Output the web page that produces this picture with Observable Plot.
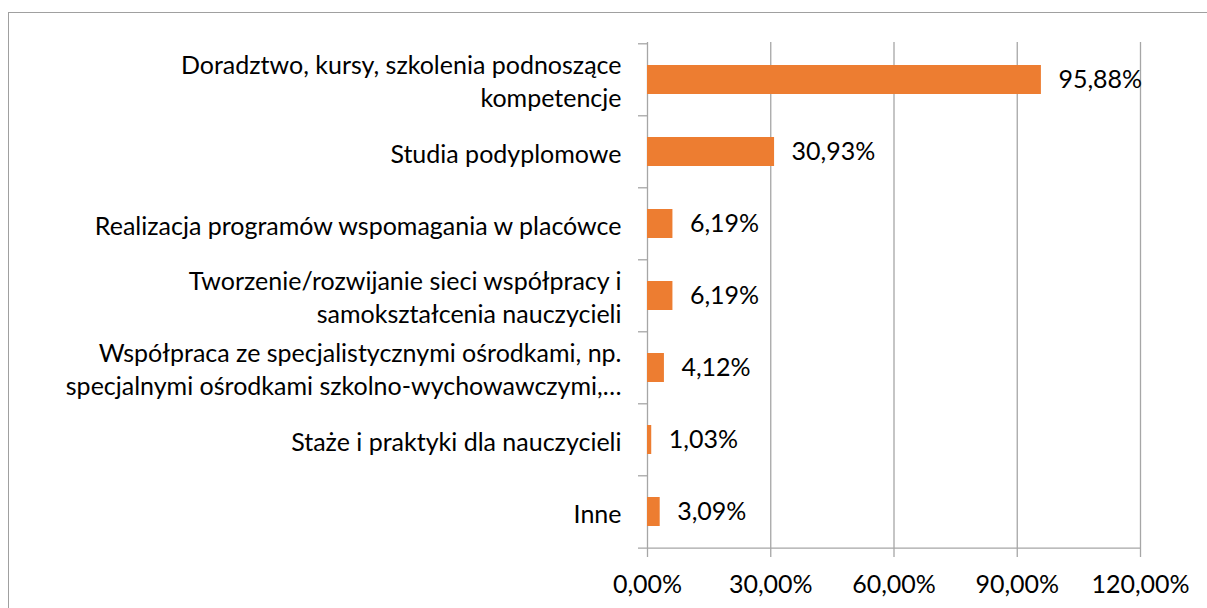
<!DOCTYPE html>
<html><head><meta charset="utf-8">
<script src="https://cdn.jsdelivr.net/npm/d3@7"></script>
<script src="https://cdn.jsdelivr.net/npm/@observablehq/plot@0.6"></script>
<style>
body{margin:0;background:#fff;}
#wrap{position:relative;width:1207px;height:608px;overflow:hidden;background:#fff;}
#frame{position:absolute;left:8px;top:12px;width:1300px;height:700px;border:1.5px solid #a0a0a0;box-sizing:border-box;}
#chart{position:absolute;left:0;top:0;}
</style></head><body><div id="wrap"><div id="frame"></div><div id="chart"></div></div>
<script>
const categories = [
  "Doradztwo, kursy, szkolenia podnoszące\nkompetencje",
  "Studia podyplomowe",
  "Realizacja programów wspomagania w placówce",
  "Tworzenie/rozwijanie sieci współpracy i\nsamokształcenia nauczycieli",
  "Współpraca ze specjalistycznymi ośrodkami, np.\nspecjalnymi ośrodkami szkolno-wychowawczymi,…",
  "Staże i praktyki dla nauczycieli",
  "Inne"
];
const values = [95.88, 30.93, 6.19, 6.19, 4.12, 1.03, 3.09];
const xTicks = [0, 30, 60, 90, 120];
const gridTicks = [30, 60, 90, 120];

const data = categories.map((c, i) => ({cat: c, value: values[i]}));
const fmt = d => d.toFixed(2).replace(".", ",") + "%";

const W = 1207, H = 608;
const mTop = 42, mBottom = 59, mLeft = 647, mRight = 67;
const step = (H - mTop - mBottom) / categories.length;
const pxPerUnit = (W - mLeft - mRight) / 120;
const tickLen = 9 / pxPerUnit;
const gray = "#a6a6a6";
const FS = 25;

const chart = Plot.plot({
  width: W, height: H,
  marginTop: mTop, marginBottom: mBottom, marginLeft: mLeft, marginRight: mRight,
  style: {fontFamily: "Lato, 'Open Sans', sans-serif", fontSize: FS + "px", color: "#000", background: "transparent"},
  x: {domain: [0, 120], axis: null},
  y: {domain: categories, paddingInner: 0.6, paddingOuter: 0.3, axis: null},
  marks: [
    Plot.gridX(gridTicks, {stroke: gray, strokeOpacity: 1, strokeWidth: 1.3}),
    Plot.ruleX([0], {stroke: gray, strokeWidth: 1.3}),
    Plot.ruleY(categories, {y: d => d, x1: -tickLen, x2: 0, dy: -step / 2, stroke: gray, strokeWidth: 1.3}),
    Plot.ruleY(categories.slice(-1), {y: d => d, x1: -tickLen, x2: 120, dy: step / 2, stroke: gray, strokeWidth: 1.3}),
    Plot.axisX({ticks: xTicks, tickFormat: fmt, tickSize: 8, tickPadding: 18, label: null, stroke: gray, strokeWidth: 1.3, fontSize: FS, fill: "#000"}),
    Plot.barX(data, {x: "value", y: "cat", fill: "#ed7d31"}),
    Plot.text(data, {x: "value", y: "cat", text: d => fmt(d.value), textAnchor: "start", dx: 17, fontSize: FS, fill: "#000"}),
    Plot.text(categories, {x: 0, y: d => d, text: d => d, textAnchor: "end", dx: -26, lineHeight: 1.33, fontSize: FS, fill: "#000", ariaLabel: "cat-label"})
  ]
});
document.getElementById("chart").appendChild(chart);

function centerLines() {
  chart.querySelectorAll('g[aria-label="cat-label"] text').forEach(t => {
    const spans = Array.from(t.querySelectorAll("tspan"));
    if (spans.length < 2) return;
    const lens = spans.map(s => s.getComputedTextLength());
    const w = Math.max(...lens);
    spans.forEach((s, i) => s.setAttribute("x", -(w - lens[i]) / 2));
  });
}
centerLines();
if (document.fonts) document.fonts.ready.then(centerLines);
</script>
</body></html>
